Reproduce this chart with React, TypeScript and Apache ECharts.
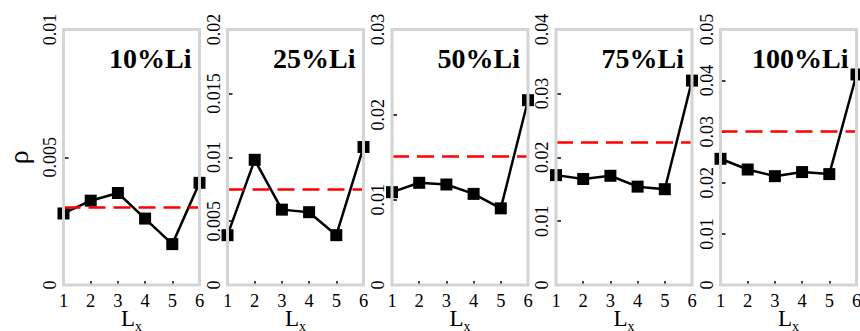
import React, { useEffect, useRef } from "react";
import * as echarts from "echarts";

const SERIF = "'Liberation Serif', 'Times New Roman', serif";

const lx = [1, 2, 3, 4, 5, 6];
const rho10 = [0.0028, 0.0033, 0.0036, 0.0026, 0.0016, 0.004];
const rho25 = [0.0039, 0.0098, 0.0059, 0.0057, 0.0039, 0.0108];
const rho50 = [0.0109, 0.012, 0.0118, 0.0107, 0.009, 0.0217];
const rho75 = [0.0172, 0.0166, 0.0171, 0.0154, 0.015, 0.032];
const rho100 = [0.0247, 0.0226, 0.0213, 0.0221, 0.0217, 0.0412];
const meanLines = [0.00306, 0.0075, 0.0151, 0.0224, 0.0301];
const panelTitles = ["10%Li", "25%Li", "50%Li", "75%Li", "100%Li"];
const yMax = [0.01, 0.02, 0.03, 0.04, 0.05];
const yInterval = [0.005, 0.005, 0.01, 0.01, 0.01];

const seriesValues = [rho10, rho25, rho50, rho75, rho100];

// layout
const gridLeft = [63.5, 227.5, 392, 556, 720.5];
const gridWidth = 136;
const gridTop = 29.5;
const gridHeight = 255.5;

function innerTicks(max: number, step: number): number[] {
  const out: number[] = [];
  const n = Math.round(max / step);
  for (let k = 1; k < n; k++) out.push(+(k * step).toFixed(4));
  return out;
}

export default function App() {
  const ref = useRef<HTMLDivElement>(null);
  useEffect(() => {
    if (!ref.current) return;
    const chart = echarts.init(ref.current, null, { renderer: "svg" });
    const idx = [0, 1, 2, 3, 4];
    const option: any = {
      animation: false,
      textStyle: { fontFamily: SERIF },
      title: idx.map((i) => ({
        text: panelTitles[i],
        right: 860 - (gridLeft[i] + gridWidth - 8),
        top: 44,
        padding: 0,
        textStyle: { fontSize: 28, fontWeight: "bold", fontFamily: SERIF, color: "#000" },
      })),
      grid: idx.map((i) => ({
        left: gridLeft[i],
        top: gridTop,
        width: gridWidth,
        height: gridHeight,
        outerBoundsMode: "none",
        containLabel: false,
        show: true,
        borderColor: "#d4d4d4",
        borderWidth: 3,
        backgroundColor: "transparent",
        z: 10,
      })),
      xAxis: idx.map((i) => ({
        gridIndex: i,
        type: "value",
        min: 1,
        max: 6,
        interval: 1,
        axisLine: { show: false },
        splitLine: { show: false },
        axisTick: {
          show: true,
          inside: true,
          length: 4,
          customValues: [2, 3, 4, 5],
          lineStyle: { color: "#000", width: 1.5 },
        },
        axisLabel: { fontSize: 18.5, color: "#000", margin: 6, fontFamily: SERIF },
        name: "{l|L}{s|x}",
        nameLocation: "middle",
        nameGap: 25,
        nameMoveOverlap: false,
        nameTextStyle: {
          color: "#000",
          fontFamily: SERIF,
          rich: {
            l: {
              fontSize: 23,
              lineHeight: 23,
              fontFamily: SERIF,
              color: "#000",
              verticalAlign: "bottom",
              padding: [0, 0, 3, 0],
            },
            s: {
              fontSize: 14,
              lineHeight: 14,
              fontFamily: SERIF,
              color: "#000",
              verticalAlign: "bottom",
            },
          },
        },
      })),
      yAxis: idx.map((i) => ({
        gridIndex: i,
        type: "value",
        min: 0,
        max: yMax[i],
        interval: yInterval[i],
        axisLine: { show: false },
        splitLine: { show: false },
        axisTick: {
          show: true,
          inside: true,
          length: 5,
          customValues: innerTicks(yMax[i], yInterval[i]),
          lineStyle: { color: "#000", width: 1.5 },
        },
        axisLabel: { fontSize: 18, color: "#000", margin: 5, rotate: 90, fontFamily: SERIF },
        name: i === 0 ? "ρ" : "",
        nameLocation: "middle",
        nameRotate: 90,
        nameGap: 31,
        nameMoveOverlap: false,
        nameTextStyle: { fontSize: 28, color: "#000", fontFamily: SERIF },
      })),
      series: idx.map((i) => ({
        type: "line",
        xAxisIndex: i,
        yAxisIndex: i,
        data: lx.map((x, k) => [x, seriesValues[i][k]]),
        symbol: "rect",
        symbolSize: 12,
        clip: false,
        itemStyle: { color: "#000" },
        lineStyle: { color: "#000", width: 2.5 },
        emphasis: { disabled: true },
        markLine: {
          silent: true,
          precision: 6,
          symbol: ["none", "none"],
          label: { show: false },
          lineStyle: { color: "#ff0000", type: [17, 8], width: 2.5 },
          data: [{ yAxis: meanLines[i] }],
        },
      })),
    };
    chart.setOption(option);
    return () => chart.dispose();
  }, []);
  return (
    <div
      ref={ref}
      style={{ position: "absolute", left: 0, top: 0, width: 860, height: 331, background: "#fff" }}
    />
  );
}
